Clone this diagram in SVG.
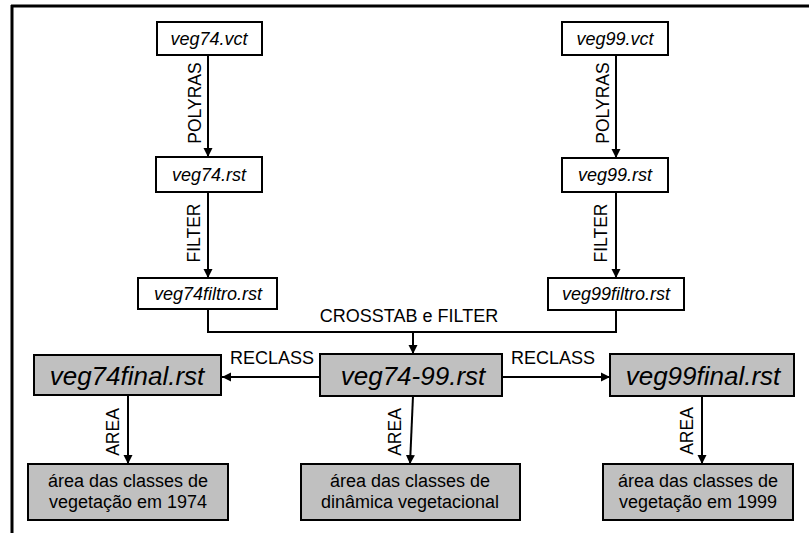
<svg xmlns="http://www.w3.org/2000/svg" width="809" height="533" viewBox="0 0 809 533">
<style>
.w{fill:#ffffff;stroke:#000;stroke-width:2}
.g{fill:#c0c0c0;stroke:#000;stroke-width:2}
.t{font-family:"Liberation Sans",Arial,sans-serif;font-style:italic;font-size:18px;text-anchor:middle;fill:#000}
.b{font-family:"Liberation Sans",Arial,sans-serif;font-style:italic;font-size:26px;text-anchor:middle;fill:#000}
.n{font-family:"Liberation Sans",Arial,sans-serif;font-size:18px;text-anchor:middle;fill:#000}
.l{font-family:"Liberation Sans",Arial,sans-serif;font-size:18px;text-anchor:middle;fill:#000}
.v{font-family:"Liberation Sans",Arial,sans-serif;font-size:17.5px;text-anchor:middle;fill:#000}
.c{fill:none;stroke:#000;stroke-width:2}
</style>
<defs>
<marker id="ah" markerWidth="10" markerHeight="10" refX="9" refY="5" orient="auto" markerUnits="userSpaceOnUse">
<path d="M0,0.5 L9,5 L0,9.5 Z" fill="#000"/>
</marker>
</defs>
<rect x="0" y="0" width="809" height="533" fill="#fff"/>
<g id="frame">
<line x1="11" y1="6" x2="809" y2="6" stroke="#000" stroke-width="3"/>
<line x1="12" y1="5" x2="12" y2="533" stroke="#000" stroke-width="3"/>
</g>
<g id="connectors">
<line class="c" x1="208" y1="55" x2="208" y2="157" marker-end="url(#ah)"/>
<line class="c" x1="208" y1="192" x2="208" y2="278" marker-end="url(#ah)"/>
<line class="c" x1="616" y1="55" x2="616" y2="158" marker-end="url(#ah)"/>
<line class="c" x1="616" y1="192" x2="616" y2="278" marker-end="url(#ah)"/>
<polyline class="c" points="208,309 208,332 616,332 616,310"/>
<line class="c" x1="413" y1="332" x2="413" y2="354" marker-end="url(#ah)"/>
<line class="c" x1="320" y1="377" x2="222" y2="377" marker-end="url(#ah)"/>
<line class="c" x1="502" y1="377" x2="610" y2="377" marker-end="url(#ah)"/>
<line class="c" x1="128" y1="395" x2="128" y2="464" marker-end="url(#ah)"/>
<line class="c" x1="413" y1="396" x2="410" y2="464" marker-end="url(#ah)"/>
<line class="c" x1="702" y1="396" x2="702" y2="464" marker-end="url(#ah)"/>
<text class="v" transform="translate(201,103) rotate(-90)">POLYRAS</text>
<text class="v" transform="translate(200,233) rotate(-90)">FILTER</text>
<text class="v" transform="translate(609,103) rotate(-90)">POLYRAS</text>
<text class="v" transform="translate(607,233) rotate(-90)">FILTER</text>
<text class="l" x="409" y="322">CROSSTAB e FILTER</text>
<text class="l" x="272" y="364">RECLASS</text>
<text class="l" x="553" y="364">RECLASS</text>
<text class="v" transform="translate(119,432) rotate(-90)">AREA</text>
<text class="v" transform="translate(401,432) rotate(-90)">AREA</text>
<text class="v" transform="translate(693,431) rotate(-90)">AREA</text>
</g>
<g id="veg74vct"><rect class="w" x="157" y="22" width="105" height="33"/><text class="t" x="209" y="45">veg74.vct</text></g>
<g id="veg74rst"><rect class="w" x="156" y="157" width="106" height="35"/><text class="t" x="209" y="181">veg74.rst</text></g>
<g id="veg74filtro"><rect class="w" x="138" y="278" width="139" height="31"/><text class="t" x="208" y="300">veg74filtro.rst</text></g>
<g id="veg99vct"><rect class="w" x="562" y="22" width="106" height="33"/><text class="t" x="615" y="45">veg99.vct</text></g>
<g id="veg99rst"><rect class="w" x="562" y="158" width="106" height="34"/><text class="t" x="615" y="181">veg99.rst</text></g>
<g id="veg99filtro"><rect class="w" x="548" y="278" width="136" height="32"/><text class="t" x="616" y="300">veg99filtro.rst</text></g>
<g id="veg74final"><rect class="g" x="34" y="355" width="187" height="40"/><text class="b" x="127" y="385">veg74final.rst</text></g>
<g id="veg7499"><rect class="g" x="320" y="354" width="182" height="42"/><text class="b" x="413" y="385">veg74-99.rst</text></g>
<g id="veg99final"><rect class="g" x="610" y="354" width="184" height="42"/><text class="b" x="703" y="385">veg99final.rst</text></g>
<g id="area74"><rect class="g" x="28" y="464" width="200" height="56"/><text class="n" x="128" y="487">área das classes de</text><text class="n" x="128" y="508">vegetação em 1974</text></g>
<g id="areadin"><rect class="g" x="301" y="464" width="219" height="56"/><text class="n" x="410" y="487">área das classes de</text><text class="n" x="410" y="508">dinâmica vegetacional</text></g>
<g id="area99"><rect class="g" x="603" y="464" width="190" height="56"/><text class="n" x="698" y="487">área das classes de</text><text class="n" x="698" y="508">vegetação em 1999</text></g>
</svg>
